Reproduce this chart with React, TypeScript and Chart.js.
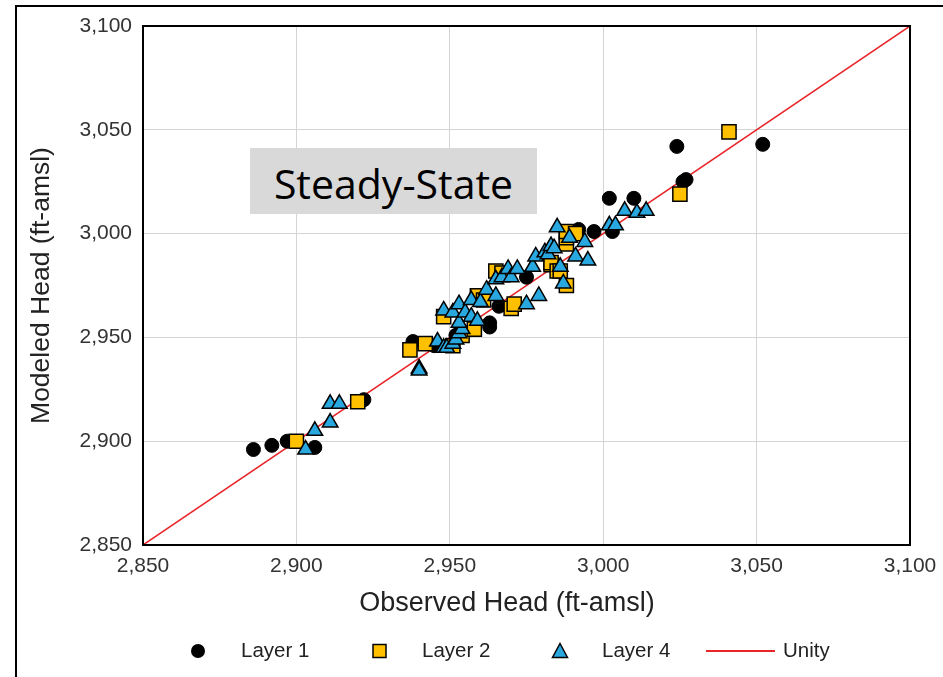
import React, { useEffect, useRef } from "react";
import { Chart, registerables } from "chart.js";

Chart.register(...registerables);

const AXIS_MIN = 2850;
const AXIS_MAX = 3100;
const AXIS_STEP = 50;
const X_TITLE = "Observed Head (ft-amsl)";
const Y_TITLE = "Modeled Head (ft-amsl)";
const BOX_LABEL = "Steady-State";
const SERIES_NAMES = ["Layer 1", "Layer 2", "Layer 4", "Unity"];

const layer1: [number, number][] = [
  [2886, 2896], [2892, 2898], [2897, 2900], [2906, 2897], [2922, 2920],
  [2938, 2948], [2945, 2946], [2952, 2951], [2963, 2957], [2963, 2955],
  [2966, 2965], [2975, 2979], [2992, 3002], [2997, 3001], [3002, 3017],
  [3003, 3001], [3010, 3017], [3024, 3042], [3026, 3025], [3027, 3026],
  [3052, 3043],
];

const layer2: [number, number][] = [
  [2900, 2900], [2920, 2919], [2937, 2944], [2942, 2947], [2948, 2960],
  [2951, 2946], [2954, 2951], [2958, 2954], [2959, 2970], [2961, 2968],
  [2965, 2982], [2967, 2981], [2970, 2964], [2971, 2966], [2983, 2985],
  [2983, 2986], [2985, 2982], [2986, 2982], [2988, 2975], [2988, 2995],
  [2988, 2998], [2988, 3001], [2991, 3000], [3025, 3019], [3041, 3049],
];

const layer4: [number, number][] = [
  [2903, 2896], [2906, 2905], [2911, 2909], [2911, 2918], [2914, 2918],
  [2940, 2935], [2940, 2934], [2946, 2948], [2948, 2945], [2949, 2945],
  [2951, 2947], [2952, 2949], [2953, 2952], [2954, 2954], [2948, 2963],
  [2951, 2962], [2953, 2966], [2953, 2957], [2955, 2962], [2957, 2960],
  [2959, 2958], [2957, 2968], [2960, 2967], [2962, 2973], [2965, 2970],
  [2965, 2978], [2967, 2979], [2969, 2983], [2970, 2979], [2972, 2983],
  [2975, 2966], [2977, 2984], [2979, 2970], [2978, 2989], [2981, 2991],
  [2982, 2990], [2983, 2994], [2984, 2993], [2985, 3003], [2986, 2984],
  [2987, 2976], [2989, 2998], [2991, 2989], [2994, 2996], [2995, 2987],
  [3002, 3004], [3004, 3004], [3007, 3011], [3011, 3010], [3014, 3011],
];

const unity: [number, number][] = [
  [2850, 2850],
  [3100, 3100],
];

const toPoints = (arr: [number, number][]) => arr.map(([x, y]) => ({ x, y }));

const FONT = "'Liberation Sans', Arial, sans-serif";

const framePlugin = {
  id: "frame",
  afterDatasetsDraw(chart: any) {
    const { ctx, chartArea } = chart;
    ctx.save();
    ctx.strokeStyle = "#000";
    ctx.lineWidth = 2;
    ctx.strokeRect(chartArea.left, chartArea.top, chartArea.right - chartArea.left, chartArea.bottom - chartArea.top);
    ctx.restore();
  },
};

const xTitlePlugin = {
  id: "xTitle",
  afterDraw(chart: any) {
    const { ctx } = chart;
    ctx.save();
    ctx.font = `27px ${FONT}`;
    ctx.fillStyle = "#222";
    ctx.textAlign = "center";
    ctx.textBaseline = "middle";
    ctx.fillText(X_TITLE, 507, 604);
    ctx.restore();
  },
};

const legendPlugin = {
  id: "customLegend",
  afterDraw(chart: any) {
    const { ctx } = chart;
    const y = 651;
    ctx.save();
    ctx.font = `20.5px ${FONT}`;
    ctx.textBaseline = "middle";
    ctx.textAlign = "left";
    // Layer 1
    ctx.beginPath();
    ctx.fillStyle = "#000";
    ctx.arc(198, y, 7, 0, Math.PI * 2);
    ctx.fill();
    ctx.fillStyle = "#222";
    ctx.fillText(SERIES_NAMES[0], 241, y);
    // Layer 2
    ctx.fillStyle = "#FFC000";
    ctx.strokeStyle = "#000";
    ctx.lineWidth = 1.5;
    ctx.fillRect(373, y - 6.5, 13, 13);
    ctx.strokeRect(373, y - 6.5, 13, 13);
    ctx.fillStyle = "#222";
    ctx.fillText(SERIES_NAMES[1], 422, y);
    // Layer 4
    ctx.beginPath();
    ctx.moveTo(560, y - 7.5);
    ctx.lineTo(567.5, y + 6.5);
    ctx.lineTo(552.5, y + 6.5);
    ctx.closePath();
    ctx.fillStyle = "#29A8E0";
    ctx.fill();
    ctx.stroke();
    ctx.fillStyle = "#222";
    ctx.fillText(SERIES_NAMES[2], 602, y);
    // Unity
    ctx.beginPath();
    ctx.strokeStyle = "#E8262A";
    ctx.lineWidth = 2;
    ctx.moveTo(706, y);
    ctx.lineTo(775, y);
    ctx.stroke();
    ctx.fillText(SERIES_NAMES[3], 783, y);
    ctx.restore();
  },
};

export default function App() {
  const canvasRef = useRef<HTMLCanvasElement>(null);

  useEffect(() => {
    if (!canvasRef.current) return;
    Chart.defaults.font.family = FONT;
    const chart = new Chart(canvasRef.current, {
      type: "scatter",
      data: {
        datasets: [
          {
            type: "line",
            label: SERIES_NAMES[3],
            data: toPoints(unity),
            borderColor: "#E8262A",
            borderWidth: 1.5,
            pointRadius: 0,
            fill: false,
            order: 5,
          } as any,
          {
            label: SERIES_NAMES[0],
            data: toPoints(layer1),
            pointStyle: "circle",
            pointRadius: 7,
            backgroundColor: "#000",
            borderColor: "#000",
            borderWidth: 1,
            order: 4,
          },
          {
            label: SERIES_NAMES[1],
            data: toPoints(layer2),
            pointStyle: "rect",
            pointRadius: 10,
            backgroundColor: "#FFC000",
            borderColor: "#000",
            borderWidth: 1.5,
            order: 3,
          },
          {
            label: SERIES_NAMES[2],
            data: toPoints(layer4),
            pointStyle: "triangle",
            pointRadius: 9,
            backgroundColor: "#29A8E0",
            borderColor: "#000",
            borderWidth: 1.5,
            order: 2,
          },
        ],
      },
      options: {
        responsive: false,
        animation: false,
        events: [],
        layout: { padding: { left: 0, top: 26, right: 33, bottom: 0 } },
        plugins: { legend: { display: false }, tooltip: { enabled: false } },
        scales: {
          x: {
            type: "linear",
            min: AXIS_MIN,
            max: AXIS_MAX,
            afterFit: (s: any) => {
              s.height = 132;
              s.paddingLeft = 0;
              s.paddingRight = 0;
            },
            grid: { color: "#d4d4d4", drawTicks: false, lineWidth: 1 },
            border: { display: false },
            ticks: {
              stepSize: AXIS_STEP,
              padding: 9,
              color: "#333",
              font: { size: 21 },
              callback: (v: any) => Number(v).toLocaleString("en-US"),
            },
            title: { display: false },
          },
          y: {
            type: "linear",
            min: AXIS_MIN,
            max: AXIS_MAX,
            afterFit: (s: any) => {
              s.width = 143;
              s.paddingTop = 0;
              s.paddingBottom = 0;
            },
            grid: { color: "#d4d4d4", drawTicks: false, lineWidth: 1 },
            border: { display: false },
            ticks: {
              stepSize: AXIS_STEP,
              padding: 11,
              color: "#333",
              font: { size: 21 },
              callback: (v: any) => Number(v).toLocaleString("en-US"),
            },
            title: {
              display: true,
              text: Y_TITLE,
              color: "#222",
              font: { size: 26.5 },
              padding: { top: 26, bottom: 0 },
            },
          },
        },
      },
      plugins: [framePlugin, xTitlePlugin, legendPlugin],
    });
    return () => chart.destroy();
  }, []);

  return (
    <div style={{ position: "fixed", left: 0, top: 0, width: 943, height: 677, overflow: "hidden", background: "#fff" }}>
      <canvas ref={canvasRef} width={943} height={677} style={{ position: "absolute", left: 0, top: 0 }} />
      <div
        style={{
          position: "absolute",
          left: 15,
          top: 5,
          width: 1000,
          height: 800,
          borderLeft: "2px solid #000",
          borderTop: "2px solid #000",
          pointerEvents: "none",
        }}
      />
      <div
        style={{
          position: "absolute",
          left: 250,
          top: 148,
          width: 287,
          height: 66,
          background: "#d9d9d9",
          display: "flex",
          alignItems: "center",
          justifyContent: "center",
          fontFamily: "'Open Sans', sans-serif",
          fontSize: 41,
          paddingTop: 4,
          boxSizing: "border-box",
          color: "#000",
        }}
      >
        {BOX_LABEL}
      </div>
    </div>
  );
}
